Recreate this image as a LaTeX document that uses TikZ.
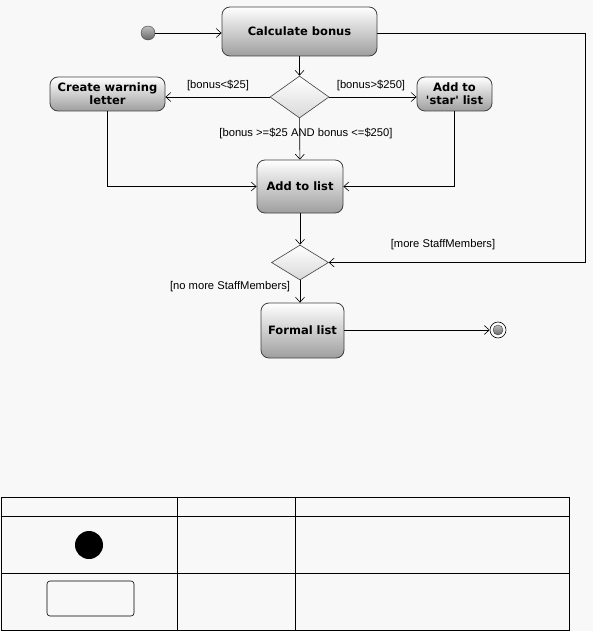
\documentclass[tikz,border=0pt]{standalone}
\usepackage{fontspec}
\setmainfont{DejaVu Sans}
\newfontfamily\guardfont{Liberation Sans}
\usetikzlibrary{positioning, shapes.geometric, arrows.meta}
\definecolor{bgcol}{HTML}{F8F8F8}
\definecolor{edgecol}{HTML}{404040}

\tikzset{
    actbox/.style={draw=edgecol, rounded corners=8pt, top color=white, bottom color=black!38,
        font=\bfseries\fontsize{11.5}{13}\selectfont, align=center, inner sep=0pt, line width=0.8pt},
    decision/.style={diamond, draw=edgecol, top color=white, bottom color=black!15, inner sep=0pt, line width=0.6pt},
    guard/.style={font=\guardfont\fontsize{11.2}{13}\selectfont, inner sep=1pt},
    flow/.style={-{Straight Barb[length=5pt,width=9pt]}, line width=0.6pt},
}

\begin{document}
\begin{tikzpicture}[x=1pt, y=-1pt]
    \fill[bgcol] (0,0) rectangle (593,631);
    \useasboundingbox (0,0) rectangle (593,631);

    \node[circle, draw=edgecol, top color=black!25, bottom color=black!60, minimum size=14pt, inner sep=0pt] (start) at (148,33) {};
    \node[actbox, minimum width=155pt, minimum height=49pt] (calc) at (299.5,31.5) {Calculate bonus};
    \node[decision, minimum width=59pt, minimum height=42pt] (check) at (299.5,97) {};
    \node[actbox, minimum width=115pt, minimum height=34pt] (warn) at (107.5,94) {Create warning\\letter};
    \node[actbox, minimum width=75pt, minimum height=34pt] (star) at (454.5,94) {Add to\\\textquotesingle star\textquotesingle{} list};
    \node[actbox, minimum width=86pt, minimum height=53pt] (addlist) at (300,186.5) {Add to list};
    \node[decision, minimum width=57pt, minimum height=35pt] (more) at (300,262.5) {};
    \node[actbox, minimum width=83pt, minimum height=55pt] (formal) at (302.5,330.5) {Formal list};
    \node[circle, draw=black, fill=white, minimum size=16pt, inner sep=0pt, line width=0.6pt] (stop) at (498,330) {};
    \node[circle, draw=edgecol, top color=black!25, bottom color=black!60, minimum size=10pt, inner sep=0pt] at (stop) {};
    \coordinate (loopcorner) at (585,33);

    \draw[flow] (start) -- (start -| calc.west);
    \draw[flow] (calc.south -| check) -- (check);
    \draw[flow] (check.west) -- (check.west -| warn.east);
    \draw[flow] (check.east) -- (check.east -| star.west);
    \draw[flow] (check) -- (addlist);
    \draw[flow] (warn.south) |- (addlist.west);
    \draw[flow] (star.south) |- (addlist.east);
    \draw[flow] (addlist) -- (more);
    \draw[flow] (calc.east |- loopcorner) -- (loopcorner) |- (more.east);
    \draw[flow] (more.south) -- (more.south |- formal.north);
    \draw[flow] (formal.east |- stop) -- (stop);

    \node[guard] at (218,86) {[bonus<\$25]};
    \node[guard] at (371,86) {[bonus>\$250]};
    \node[guard] at (306,134) {[bonus >=\$25 AND bonus <=\$250]};
    \node[guard] at (443,245) {[more StaffMembers]};
    \node[guard] at (230,287) {[no more StaffMembers]};

    % legend table
    \draw[line width=0.8pt] (1,497) rectangle (569,630);
    \draw[line width=0.8pt] (1,516) -- (569,516);
    \draw[line width=0.8pt] (1,573) -- (569,573);
    \draw[line width=0.8pt] (177,497) -- (177,630);
    \draw[line width=0.8pt] (295,497) -- (295,630);
    \fill[black] (89,545) circle (14);
    \draw[line width=0.6pt, rounded corners=3pt] (47,581) rectangle (134,616);
\end{tikzpicture}
\end{document}
